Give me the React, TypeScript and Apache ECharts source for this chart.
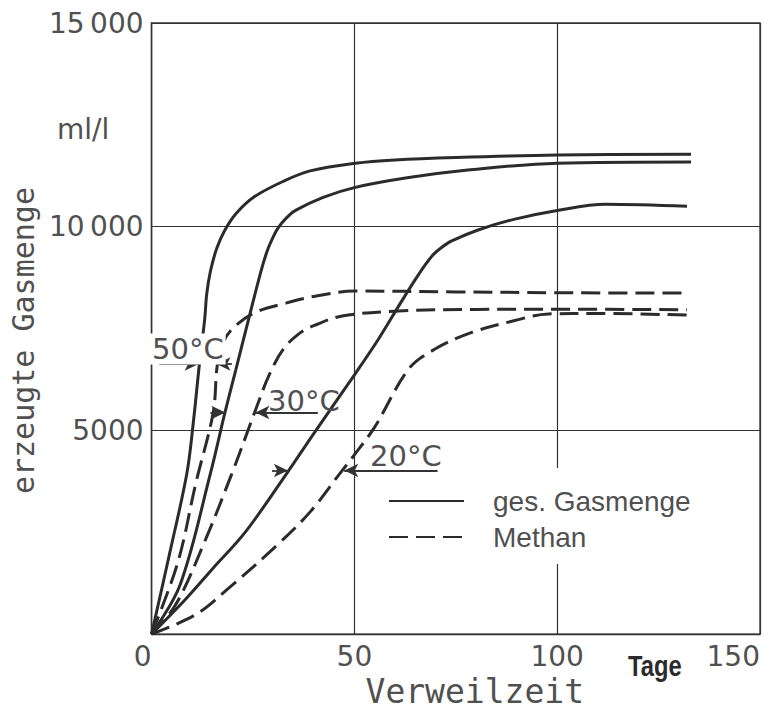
import React, { useEffect, useRef } from 'react';
import * as echarts from 'echarts';

// x: Verweilzeit (Tage), y: erzeugte Gasmenge (ml/l)
const xTicks = [0, 50, 100, 150];
const xTickLabels = ['0', '50', '100', '150'];
const yTicks = [0, 5000, 10000, 15000];
const yTickLabels = ['', '5000', '10\u2009000', '15\u2009000'];

const seriesNames = ['ges. Gasmenge', 'Methan'];
const temperatures = ['50°C', '30°C', '20°C'];

// gesamte Gasmenge
const gas50 = [[0, 0], [4.5, 2000], [8.7, 3940], [10.3, 5200], [11.8, 6630], [13.1, 7730], [13.6, 8350], [14.5, 8900], [16.1, 9480], [18.1, 9920], [20.9, 10330], [25.4, 10740], [32.6, 11120], [39.1, 11370], [50.3, 11560], [60, 11640], [75, 11700], [100, 11760], [133, 11780]];
const gas30 = [[0, 0], [7, 1200], [14.5, 3940], [18.1, 5440], [20.8, 6500], [23.6, 7600], [27.1, 8950], [28.6, 9430], [30, 9750], [31.2, 9970], [33.2, 10210], [35.5, 10400], [42.3, 10720], [50, 10960], [63, 11200], [78, 11390], [100, 11560], [133, 11590]];
const gas20 = [[0, 0], [8.5, 870], [15, 1600], [23, 2490], [33.3, 3940], [39.9, 4910], [50.2, 6390], [56, 7250], [61.4, 8130], [65, 8700], [67.5, 9070], [69.5, 9320], [71.5, 9490], [74, 9650], [80.5, 9920], [89.3, 10180], [100, 10400], [112, 10550], [132, 10500]];

// Methan
const meth50 = [[0, 0], [6.5, 1770], [10.9, 3700], [15.2, 5440], [16.2, 6600], [17.6, 7150], [20, 7500], [25.4, 7890], [33.3, 8130], [40.6, 8300], [50, 8420], [75, 8400], [100, 8380], [132, 8370]];
const meth30 = [[0, 0], [6, 730], [13.3, 2320], [19.8, 3940], [23.7, 4980], [25.4, 5440], [29, 6360], [32.6, 7010], [36.7, 7400], [40, 7570], [47, 7810], [61, 7930], [80, 7970], [100, 7975], [132, 7960]];
const meth20 = [[0, 0], [10.9, 480], [18.8, 1110], [30.9, 2180], [39.1, 3000], [46.4, 3940], [50, 4400], [55, 5080], [63.5, 6520], [70.2, 7015], [78.8, 7400], [89.3, 7690], [97.9, 7860], [110, 7870], [132, 7830]];

// Pfeile (Abstand Gesamtgas / Methan) : [start, spitze]
const arrowSegments = [
  [[1.9, 6630], [11.6, 6630]],
  [[19.8, 6630], [16.0, 6630]],
  [[14.5, 5440], [18.2, 5440]],
  [[41, 5440], [25.6, 5440]],
  [[29.7, 4015], [33.6, 4015]],
  [[70.5, 4015], [47.5, 4015]],
];

const LINE = '#2b2b2b';
const TEXT = '#505050';

export default function App() {
  const ref = useRef<HTMLDivElement>(null);
  useEffect(() => {
    document.body.style.margin = '0';
    const chart = echarts.init(ref.current!, null, { renderer: 'svg' });
    const solid = { color: LINE, width: 3, type: 'solid' as const };
    const dashed = { color: LINE, width: 3, type: [19, 8] as any };
    const mk = (name: string, data: number[][], ls: any, extra: any = {}) => ({
      type: 'line',
      name,
      data,
      symbol: 'none',
      showSymbol: false,
      smooth: 0.35,
      lineStyle: ls,
      itemStyle: { color: LINE },
      z: 3,
      ...extra,
    });
    chart.setOption({
      animation: false,
      backgroundColor: '#fff',
      grid: {
        left: 145,
        right: 22,
        top: 23,
        bottom: 70,
        show: true,
        borderColor: '#333',
        borderWidth: 1.3,
        containLabel: false,
      },
      xAxis: {
        type: 'value',
        min: xTicks[0],
        max: xTicks[xTicks.length - 1],
        interval: 50,
        axisLine: { show: true, lineStyle: { color: '#333', width: 1.3 } },
        axisTick: { show: false },
        splitLine: { show: true, lineStyle: { color: '#333', width: 1.2 } },
        axisLabel: {
          formatter: (v: number) => xTickLabels[xTicks.indexOf(v)] ?? '',
          fontFamily: 'DejaVu Sans',
          fontSize: 28,
          color: TEXT,
          margin: 8,
          alignMinLabel: 'right',
          alignMaxLabel: 'right',
        },
        name: 'Verweilzeit',
        nameLocation: 'middle',
        nameGap: 33,
        nameTextStyle: {
          fontFamily: 'DejaVu Sans Mono',
          fontSize: 33,
          color: TEXT,
          padding: [0, 0, 0, 38],
        },
      },
      yAxis: {
        type: 'value',
        min: yTicks[0],
        max: yTicks[yTicks.length - 1],
        interval: 5000,
        axisLine: { show: true, lineStyle: { color: '#333', width: 1.3 } },
        axisTick: { show: false },
        splitLine: { show: true, lineStyle: { color: '#333', width: 1.2 } },
        axisLabel: {
          formatter: (v: number) => yTickLabels[yTicks.indexOf(v)] ?? '',
          fontFamily: 'DejaVu Sans',
          fontSize: 28,
          color: TEXT,
          margin: 8,
        },
        name: 'erzeugte Gasmenge',
        nameLocation: 'middle',
        nameRotate: 90,
        nameGap: 100,
        nameTextStyle: {
          fontFamily: 'DejaVu Sans Mono',
          fontSize: 30,
          color: TEXT,
          padding: [0, 24, 0, 0],
        },
      },
      legend: {
        data: seriesNames,
        orient: 'vertical',
        left: 372,
        top: 468,
        backgroundColor: '#fff',
        padding: [16, 16, 10, 16],
        itemWidth: 75,
        itemHeight: 14,
        itemGap: 2,
        selectedMode: false,
        itemStyle: { opacity: 0 },
        textStyle: {
          fontFamily: 'Liberation Sans',
          fontSize: 28,
          color: TEXT,
          lineHeight: 34,
          padding: [0, 0, 0, 24],
        },
      },
      series: [
        mk(seriesNames[0], gas50, solid, {
          markLine: {
            silent: true,
            symbol: ['none', 'arrow'],
            symbolSize: [10, 14],
            lineStyle: { color: '#333', width: 1.8, type: 'solid' },
            label: { show: false },
            data: arrowSegments.map(([a, b]) => [{ coord: a }, { coord: b }]),
          },
        }),
        mk(seriesNames[0], gas30, solid),
        mk(seriesNames[0], gas20, solid),
        mk(seriesNames[1], meth50, dashed),
        mk(seriesNames[1], meth30, dashed),
        mk(seriesNames[1], meth20, dashed),
      ],
      graphic: [
        {
          type: 'text',
          x: 150,
          y: 349,
          z: 10,
          style: {
            text: temperatures[0],
            fontFamily: 'DejaVu Sans',
            fontSize: 29,
            fill: TEXT,
            verticalAlign: 'middle',
            backgroundColor: '#fff',
            padding: [2, 2, 0, 2],
          },
        },
        {
          type: 'text',
          x: 268,
          y: 401,
          z: 10,
          style: { text: temperatures[1], fontFamily: 'DejaVu Sans', fontSize: 29, fill: TEXT, verticalAlign: 'middle' },
        },
        {
          type: 'text',
          x: 370,
          y: 456,
          z: 10,
          style: { text: temperatures[2], fontFamily: 'DejaVu Sans', fontSize: 29, fill: TEXT, verticalAlign: 'middle' },
        },
        {
          type: 'text',
          x: 57,
          y: 129,
          style: { text: 'ml/l', fontFamily: 'DejaVu Sans', fontSize: 28, fill: TEXT, verticalAlign: 'middle' },
        },
        {
          type: 'text',
          x: 628,
          y: 666,
          scaleX: 0.82,
          style: {
            text: 'Tage',
            fontFamily: 'Liberation Sans',
            fontWeight: 'bold',
            fontSize: 29,
            fill: '#2b2b2b',
            verticalAlign: 'middle',
          },
        },
      ],
    });
    return () => chart.dispose();
  }, []);
  return <div ref={ref} style={{ width: 782, height: 713 }} />;
}
